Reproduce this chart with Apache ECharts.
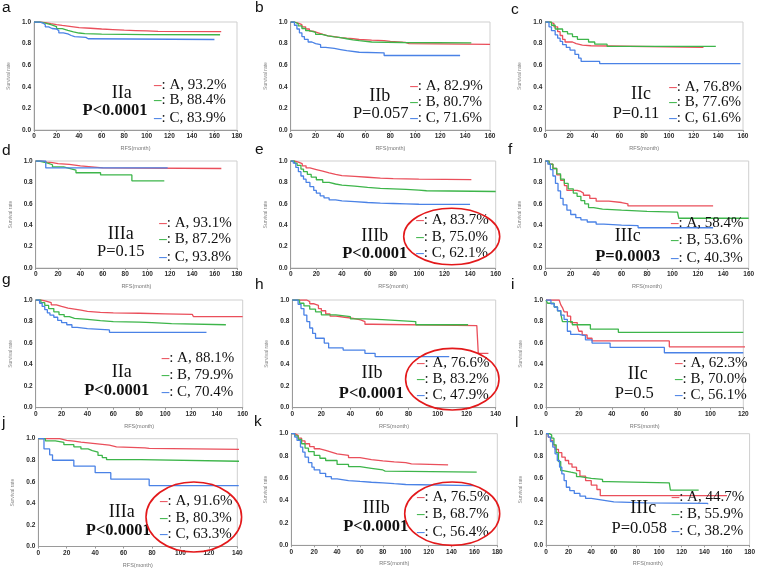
<!DOCTYPE html>
<html><head><meta charset="utf-8">
<script src="https://cdn.jsdelivr.net/npm/echarts@6/dist/echarts.min.js"></script>
<style>html,body{margin:0;padding:0;background:#fff}#c{width:758px;height:569px}</style>
</head><body><div id="c"></div>
<script>
// ---------- DATA ----------
const panelLetters = ['a','b','c','d','e','f','g','h','i','j','k','l'];
const stageLabels = ['IIa','IIb','IIc','IIIa','IIIb','IIIc','IIa','IIb','IIc','IIIa','IIIb','IIIc'];
const pValues = ['P<0.0001','P=0.057','P=0.11','P=0.15','P<0.0001','P=0.0003','P<0.0001','P<0.0001','P=0.5','P<0.0001','P<0.0001','P=0.058'];
const pBold = [true,false,false,false,true,true,true,true,false,true,true,false];
const rateA = ['93.2%','82.9%','76.8%','93.1%','83.7%','58.4%','88.1%','76.6%','62.3%','91.6%','76.5%','44.7%'];
const rateB = ['88.4%','80.7%','77.6%','87.2%','75.0%','53.6%','79.9%','83.2%','70.0%','80.3%','68.7%','55.9%'];
const rateC = ['83.9%','71.6%','61.6%','93.8%','62.1%','40.3%','70.4%','47.9%','56.1%','63.3%','56.4%','38.2%'];
const xMaxes = [180,160,160,180,160,160,160,140,120,140,180,180];
const circled = [false,false,false,false,true,false,false,true,false,true,true,false];
const yTicks = [0,0.2,0.4,0.6,0.8,1.0];
const xTitle = 'RFS(month)';
const yTitle = 'Survival rate';

const a_A = [[0,1],[5,0.995],[10,0.985],[15,0.976],[20,0.968],[25,0.962],[30,0.955],[35,0.948],[40,0.942],[50,0.935],[60,0.93],[70,0.925],[80,0.921],[90,0.917],[100,0.913],[110,0.911],[166,0.911]];
const a_B = [[0,1],[5,0.99],[10,0.975],[15,0.958],[20,0.938],[25,0.922],[30,0.908],[35,0.898],[40,0.893],[45,0.888],[60,0.886],[80,0.884],[100,0.882],[165,0.882]];
const a_C = [[0,1],[5,0.99],[8,0.975],[10,0.955],[13,0.94],[16,0.935],[20,0.92],[22,0.9],[26,0.89],[30,0.875],[33,0.865],[36,0.858],[46,0.845],[48,0.838],[160,0.838]];

const b_A = [[0,1],[3,0.99],[6,0.975],[9,0.955],[12,0.935],[15,0.915],[18,0.9],[22,0.885],[26,0.872],[30,0.865],[35,0.856],[40,0.85],[45,0.845],[50,0.838],[55,0.832],[65,0.828],[75,0.82],[80,0.812],[92,0.8],[95,0.792],[160,0.792]];
const b_B = [[0,1],[3,0.985],[6,0.965],[9,0.94],[12,0.92],[15,0.905],[20,0.885],[25,0.872],[30,0.862],[35,0.855],[40,0.845],[45,0.835],[50,0.828],[55,0.815],[65,0.81],[90,0.806],[145,0.806]];
const b_C = [[0,1],[3,0.97],[5,0.935],[7,0.9],[9,0.865],[11,0.84],[14,0.815],[17,0.8],[20,0.79],[24,0.765],[28,0.755],[35,0.745],[40,0.735],[45,0.72],[55,0.715],[75,0.69],[136,0.69]];

const c_A = [[0,1],[4,0.985],[7,0.955],[10,0.91],[12,0.875],[14,0.84],[16,0.815],[22,0.8],[25,0.785],[30,0.78],[37,0.765],[128,0.765]];
const c_B = [[0,1],[5,0.97],[8,0.935],[14,0.91],[18,0.89],[22,0.865],[26,0.84],[35,0.815],[40,0.795],[50,0.775],[138,0.775]];
const c_C = [[0,1],[3,0.955],[5,0.92],[8,0.88],[10,0.85],[12,0.82],[14,0.79],[17,0.765],[20,0.74],[24,0.7],[27,0.665],[29,0.635],[44,0.615],[158,0.615]];

const d_A = [[0,1],[5,0.99],[10,0.985],[15,0.975],[20,0.968],[30,0.955],[40,0.945],[50,0.935],[60,0.93],[166,0.93]];
const d_B = [[0,1],[3,0.982],[10,0.965],[15,0.945],[25,0.93],[30,0.915],[36,0.89],[58,0.87],[86,0.815],[115,0.815]];
const d_C = [[0,1],[9,0.935],[118,0.935]];

const e_A = [[0,1],[3,0.99],[6,0.975],[9,0.955],[12,0.935],[15,0.92],[20,0.905],[25,0.89],[30,0.876],[35,0.864],[40,0.856],[50,0.848],[60,0.84],[70,0.835],[80,0.83],[100,0.826],[141,0.826]];
const e_B = [[0,1],[3,0.98],[5,0.96],[8,0.925],[10,0.9],[13,0.875],[16,0.85],[20,0.825],[25,0.8],[30,0.785],[35,0.775],[40,0.765],[50,0.753],[60,0.745],[70,0.74],[80,0.735],[90,0.728],[100,0.722],[106,0.715],[160,0.715]];
const e_C = [[0,1],[2,0.98],[4,0.94],[6,0.9],[8,0.86],[10,0.83],[12,0.8],[15,0.76],[18,0.725],[20,0.7],[23,0.675],[26,0.655],[30,0.636],[35,0.628],[40,0.62],[50,0.612],[60,0.606],[70,0.603],[80,0.6],[90,0.596],[100,0.594],[140,0.594]];

const f_A = [[0,1],[3,0.97],[6,0.93],[9,0.87],[12,0.82],[15,0.77],[17,0.725],[25,0.715],[28,0.7],[30,0.68],[35,0.65],[40,0.625],[50,0.612],[60,0.6],[65,0.58],[132,0.58]];
const f_B = [[0,1],[3,0.97],[6,0.93],[9,0.88],[12,0.83],[15,0.79],[18,0.74],[22,0.7],[25,0.67],[28,0.63],[31,0.6],[34,0.565],[38,0.55],[45,0.54],[60,0.53],[80,0.522],[104,0.52],[105,0.465],[160,0.465]];
const f_C = [[0,1],[2,0.97],[4,0.92],[6,0.86],[8,0.79],[10,0.72],[12,0.65],[14,0.59],[17,0.54],[20,0.5],[24,0.47],[28,0.45],[33,0.43],[40,0.41],[46,0.4],[60,0.396],[73,0.376],[132,0.376]];

const g_A = [[0,1],[4,0.99],[8,0.975],[12,0.955],[16,0.94],[20,0.925],[25,0.915],[30,0.905],[35,0.895],[40,0.885],[50,0.88],[60,0.877],[80,0.872],[100,0.867],[121,0.865],[122,0.845],[160,0.845]];
const g_B = [[0,1],[4,0.975],[7,0.95],[10,0.92],[14,0.89],[18,0.865],[22,0.845],[26,0.83],[30,0.82],[40,0.808],[50,0.8],[60,0.795],[80,0.79],[90,0.78],[105,0.77],[147,0.77]];
const g_C = [[0,1],[3,0.97],[5,0.94],[7,0.91],[9,0.88],[11,0.86],[14,0.84],[17,0.81],[20,0.79],[24,0.77],[28,0.745],[32,0.735],[40,0.728],[50,0.722],[57,0.7],[132,0.7]];

const h_A = [[0,1],[10,0.985],[12,0.965],[15,0.95],[18,0.92],[20,0.9],[23,0.87],[26,0.85],[30,0.84],[36,0.83],[42,0.815],[47,0.8],[50,0.775],[55,0.762],[127,0.762],[128,0.505],[135,0.505]];
const h_B = [[0,1],[5,0.97],[8,0.945],[12,0.915],[16,0.89],[20,0.862],[30,0.845],[40,0.825],[50,0.818],[62,0.8],[85,0.77],[121,0.77]];
const h_C = [[0,1],[4,0.96],[6,0.92],[8,0.86],[10,0.8],[12,0.74],[14,0.69],[16,0.645],[22,0.6],[25,0.555],[35,0.535],[50,0.505],[57,0.475],[108,0.475]];

const i_A = [[0,1],[8,1],[9,0.955],[10,0.93],[11,0.89],[13,0.85],[15,0.79],[19,0.76],[20,0.71],[22,0.675],[25,0.645],[28,0.62],[75,0.565],[123,0.565]];
const i_B = [[0,1],[1,0.97],[5,0.935],[7,0.9],[9,0.87],[10,0.8],[16,0.77],[27,0.73],[44,0.7],[120,0.7]];
const i_C = [[0,1],[3,0.965],[5,0.935],[7,0.9],[9,0.86],[11,0.82],[13,0.71],[15,0.68],[20,0.67],[24,0.63],[28,0.6],[39,0.56],[72,0.51],[120,0.51]];

const j_A = [[0,1],[15,0.985],[20,0.978],[25,0.968],[30,0.955],[40,0.94],[50,0.925],[55,0.915],[75,0.91],[78,0.9],[145,0.9]];
const j_B = [[0,1],[5,0.98],[12,0.965],[18,0.945],[25,0.925],[30,0.905],[35,0.89],[38,0.875],[42,0.845],[45,0.825],[48,0.805],[72,0.79],[145,0.79]];
const j_C = [[0,1],[4,0.905],[8,0.85],[10,0.8],[25,0.745],[40,0.685],[51,0.625],[78,0.565],[141,0.565]];

const k_A = [[0,1],[3,0.985],[6,0.96],[9,0.935],[12,0.91],[16,0.885],[20,0.865],[25,0.85],[30,0.835],[35,0.82],[40,0.805],[50,0.785],[60,0.768],[70,0.757],[80,0.748],[90,0.74],[100,0.73],[105,0.72],[137,0.72]];
const k_B = [[0,1],[3,0.98],[6,0.95],[9,0.91],[12,0.87],[15,0.84],[20,0.805],[25,0.78],[30,0.76],[40,0.725],[50,0.705],[60,0.69],[70,0.675],[80,0.665],[82,0.655],[162,0.655]];
const k_C = [[0,1],[3,0.97],[5,0.94],[8,0.88],[10,0.835],[12,0.79],[15,0.74],[18,0.7],[20,0.675],[25,0.645],[30,0.615],[35,0.595],[40,0.58],[50,0.572],[60,0.565],[70,0.56],[80,0.552],[90,0.545],[100,0.535],[160,0.532]];

const l_A = [[0,1],[2,0.97],[4,0.94],[6,0.9],[8,0.86],[11,0.83],[14,0.79],[17,0.76],[20,0.73],[23,0.7],[27,0.67],[30,0.62],[35,0.58],[40,0.54],[45,0.5],[48,0.445],[160,0.445]];
const l_B = [[0,1],[3,0.99],[5,0.96],[7,0.9],[9,0.83],[11,0.75],[13,0.67],[15,0.655],[22,0.645],[27,0.615],[30,0.6],[40,0.59],[50,0.57],[55,0.56],[109,0.56],[110,0.495],[135,0.495]];
const l_C = [[0,1],[2,0.97],[4,0.93],[6,0.88],[8,0.82],[10,0.76],[12,0.7],[14,0.64],[16,0.58],[18,0.52],[21,0.49],[25,0.465],[30,0.44],[35,0.42],[40,0.405],[50,0.39],[60,0.38],[88,0.375],[143,0.368]];

const curvesA = [a_A,b_A,c_A,d_A,e_A,f_A,g_A,h_A,i_A,j_A,k_A,l_A];
const curvesB = [a_B,b_B,c_B,d_B,e_B,f_B,g_B,h_B,i_B,j_B,k_B,l_B];
const curvesC = [a_C,b_C,c_C,d_C,e_C,f_C,g_C,h_C,i_C,j_C,k_C,l_C];

// ---------- LAYOUT (px) ----------
const layout = [
 {g:[34,22,203,108], L:[2,8], s:[121.7,93], p:[115,111], lx:154, ly:[85,100.5,118]},
 {g:[290.7,22,199.3,108], L:[255,8], s:[379.7,96.7], p:[380.7,113.3], lx:410.3, ly:[86,101.7,118.3]},
 {g:[545.3,22,197.7,108], L:[511,9.8], s:[641,94.3], p:[636,113.3], lx:669.3, ly:[86.7,101.7,118.3]},
 {g:[35.7,161,201.3,107], L:[2,150.8], s:[120.7,234.3], p:[120.7,251.7], lx:159.3, ly:[222.7,239.3,256.7]},
 {g:[290.7,161,205,107], L:[255,149.8], s:[374.7,236.7], p:[374.7,253.3], lx:416.3, ly:[220,236.7,253.3], e:[451.7,236.5,48,28.3]},
 {g:[545.3,161,203.4,107], L:[508,149.8], s:[627.7,236.7], p:[627.7,256.7], lx:671, ly:[223.3,240,258.3]},
 {g:[35.7,300,207,107.7], L:[2,279.8], s:[121.7,372.3], p:[116.7,391], lx:161.7, ly:[357.7,375,391.7]},
 {g:[292.3,300,203.4,107.7], L:[255,284.8], s:[372,373.3], p:[371.3,393.3], lx:417, ly:[363.3,379.3,395], e:[452.3,379.2,46.7,30.8]},
 {g:[546,300,197.3,107.7], L:[511,284.8], s:[637.7,374.3], p:[634.3,393.3], lx:675, ly:[363.3,379.3,395]},
 {g:[38.3,438.7,199,108.3], L:[2,422.8], s:[121.7,512], p:[118.3,530.3], lx:160, ly:[501,517.7,534.3], e:[193.8,517,47.8,35]},
 {g:[291.3,433.7,206,111.6], L:[254,421.5], s:[376.3,508.7], p:[375.7,527], lx:417, ly:[497,514.3,532], e:[452.2,513.7,47.5,31.7]},
 {g:[546,433.7,205,111.6], L:[515,422.8], s:[643.3,508.7], p:[639.3,528.7], lx:671.7, ly:[497,514.3,531]}
];

const COL = ['#ea4f5b','#3db54a','#4a82e6'];
const SERIF = '"Liberation Serif","Times New Roman",serif';
const SANS = '"Liberation Sans",Arial,sans-serif';

const grids=[], xAxes=[], yAxes=[], series=[], graphics=[];
layout.forEach((L,i)=>{
  grids.push({left:L.g[0], top:L.g[1], width:L.g[2], height:L.g[3], show:true, borderColor:'#cfcfcf', borderWidth:1, containLabel:false});
  xAxes.push({type:'value', gridIndex:i, min:0, max:xMaxes[i], interval:20,
    name:xTitle, nameLocation:'middle', nameGap:15.5, nameTextStyle:{fontSize:5.5, color:'#777', fontFamily:SANS},
    axisLine:{show:true, lineStyle:{color:'#9a9a9a', width:1}}, axisTick:{show:true, length:2, lineStyle:{color:'#9a9a9a'}},
    axisLabel:{fontSize:6.5, fontWeight:'bold', color:'#2a2a2a', margin:3, fontFamily:SANS, showMaxLabel:true, showMinLabel:true},
    splitLine:{show:false}});
  yAxes.push({type:'value', gridIndex:i, min:yTicks[0], max:yTicks[yTicks.length-1], interval:0.2,
    name:yTitle, nameLocation:'middle', nameGap:23, nameRotate:90, nameTextStyle:{fontSize:5, color:'#888', fontFamily:SANS},
    axisLine:{show:true, lineStyle:{color:'#9a9a9a', width:1}}, axisTick:{show:false},
    axisLabel:{fontSize:6.5, fontWeight:'bold', color:'#2a2a2a', margin:3, fontFamily:SANS, formatter:v=>v.toFixed(1)},
    splitLine:{show:false}});
  [curvesA[i],curvesB[i],curvesC[i]].forEach((d,k)=>{
    series.push({type:'line', xAxisIndex:i, yAxisIndex:i, data:d, step:'end', showSymbol:false, symbol:'none',
      lineStyle:{color:COL[k], width:1.3}, silent:true, z:2});
  });
  graphics.push({type:'text', x:L.L[0], y:L.L[1], z:100, style:{text:panelLetters[i], fontSize:15.5, fontFamily:SANS, fill:'#111', textAlign:'left', textVerticalAlign:'middle', align:'left', verticalAlign:'middle'}});
  graphics.push({type:'text', x:L.s[0], y:L.s[1], z:100, style:{text:stageLabels[i], fontSize:18, fontFamily:SERIF, fill:'#111', textAlign:'center', textVerticalAlign:'middle', align:'center', verticalAlign:'middle'}});
  graphics.push({type:'text', x:L.p[0], y:L.p[1], z:100, style:{text:pValues[i], fontSize:16.5, fontWeight:pBold[i]?'bold':'normal', fontFamily:SERIF, fill:'#111', textAlign:'center', textVerticalAlign:'middle', align:'center', verticalAlign:'middle'}});
  const rates=[rateA[i],rateB[i],rateC[i]], names=['A','B','C'];
  rates.forEach((r,k)=>{
    graphics.push({type:'text', x:L.lx, y:L.ly[k], z:100, style:{
      text:'{d|\u2013}{t|: '+names[k]+', '+r+'}',
      fontSize:15, fontFamily:SERIF, fill:'#111', textAlign:'left', textVerticalAlign:'middle', align:'left', verticalAlign:'middle',
      rich:{d:{fontSize:15, fontWeight:'bold', fontFamily:SERIF, fill:COL[k], color:COL[k]}, t:{fontSize:15, fontFamily:SERIF, fill:'#111', color:'#111'}}}});
  });
  if (circled[i] && L.e) {
    graphics.push({type:'ellipse', z:101, shape:{cx:L.e[0], cy:L.e[1], rx:L.e[2], ry:L.e[3]}, style:{fill:'none', stroke:'#e3191b', lineWidth:1.6}});
  }
});

const chart = echarts.init(document.getElementById('c'), null, {renderer:'canvas'});
chart.setOption({animation:false, backgroundColor:'#fff', grid:grids, xAxis:xAxes, yAxis:yAxes, series:series, graphic:{elements:graphics}});
</script></body></html>
